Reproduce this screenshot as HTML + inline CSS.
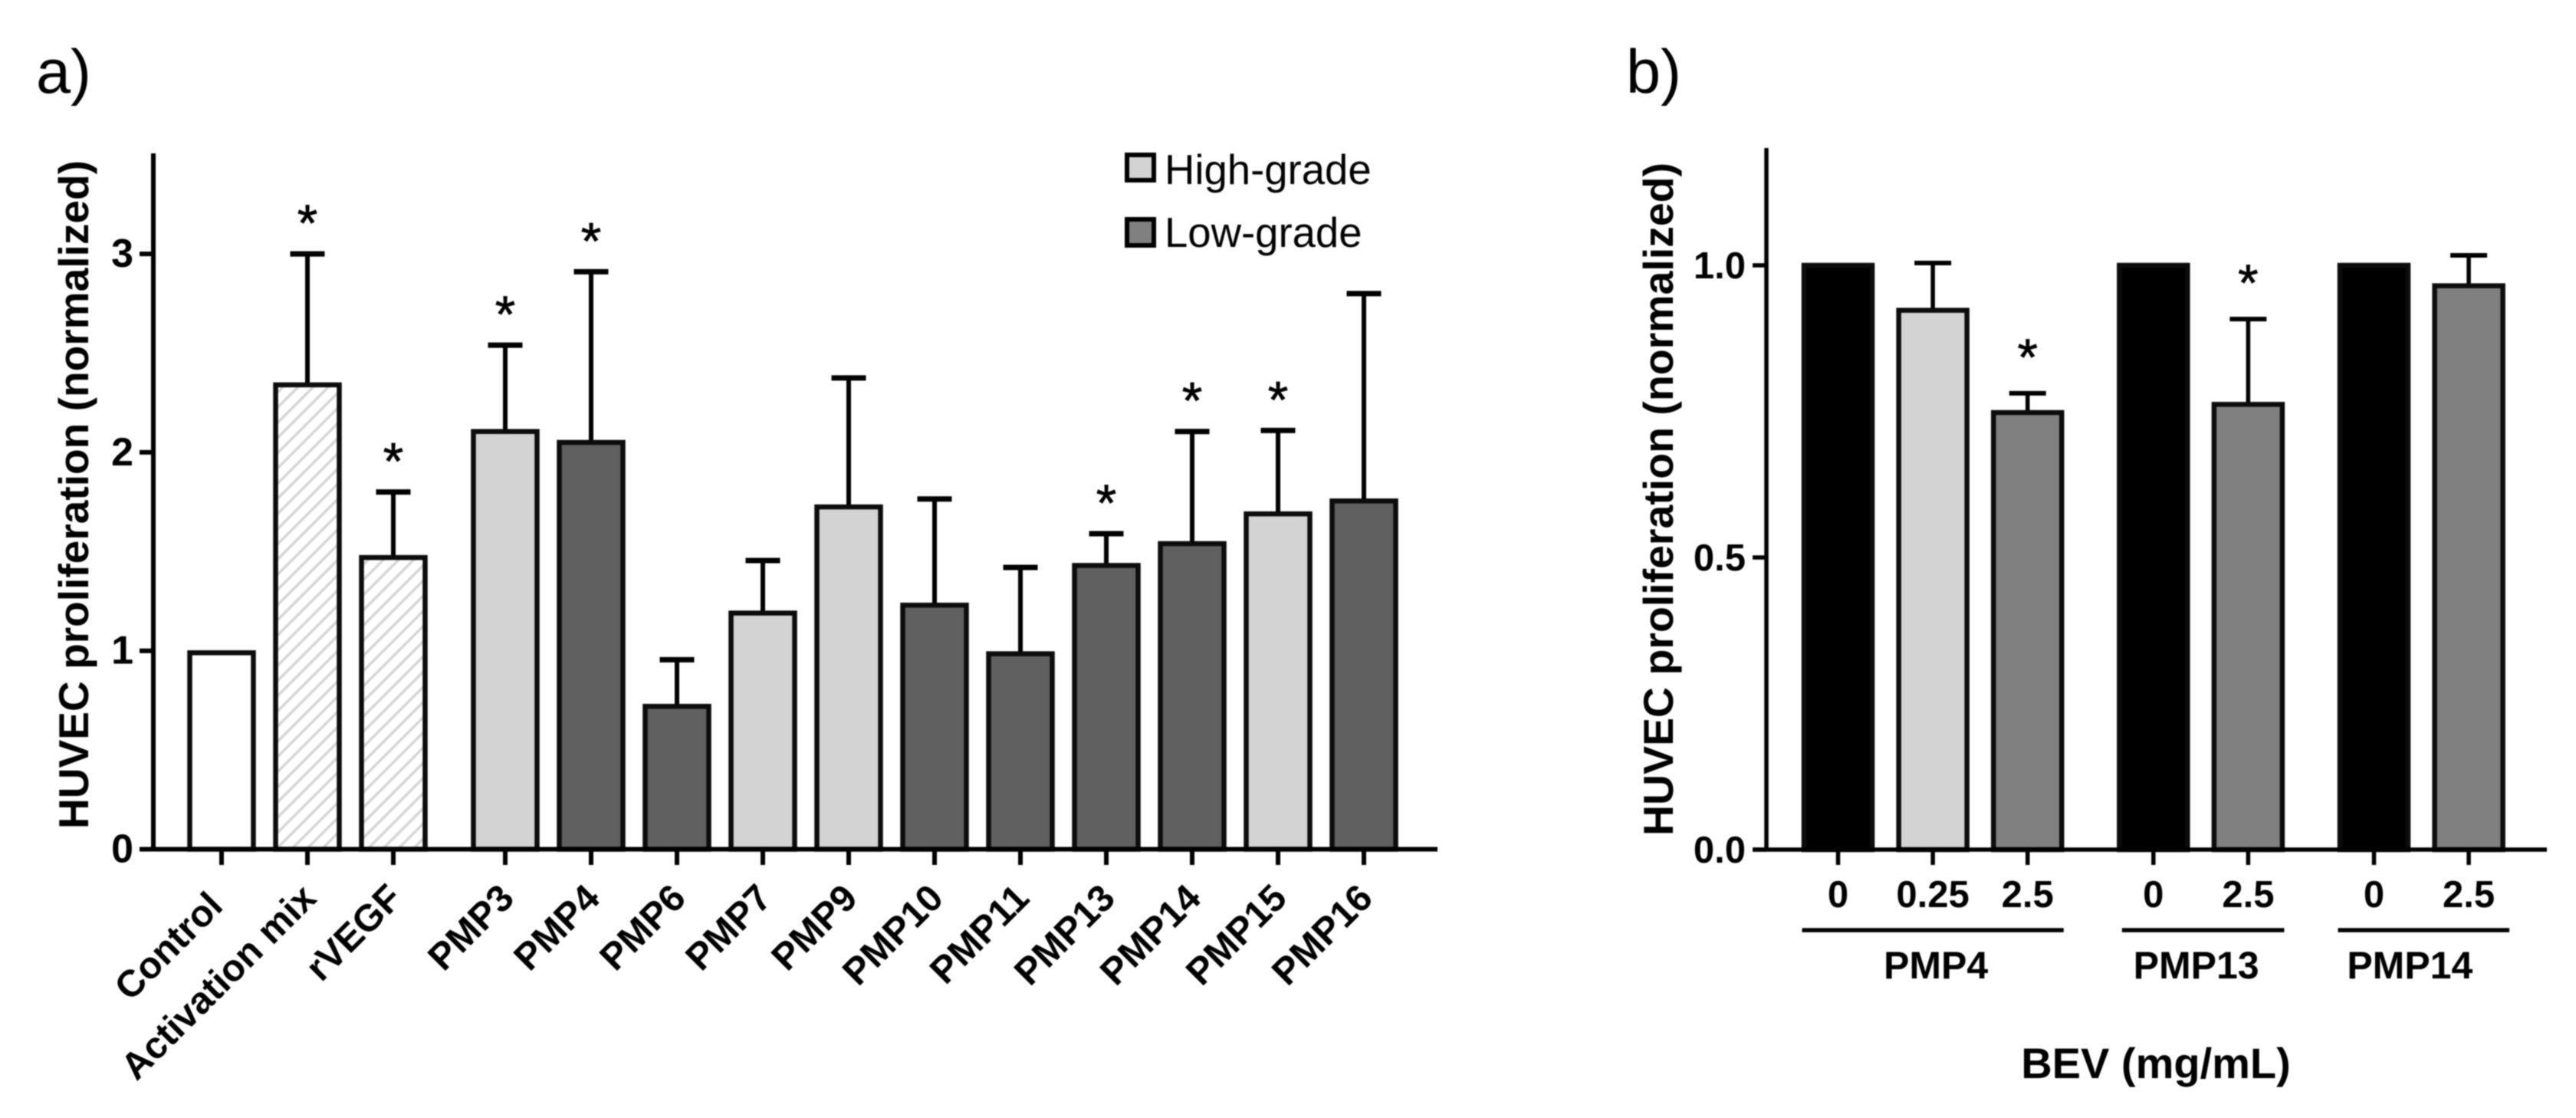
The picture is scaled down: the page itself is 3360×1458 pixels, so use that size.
<!DOCTYPE html>
<html lang="en">
<head>
<meta charset="utf-8">
<title>HUVEC proliferation bar charts</title>
<style>
html,body{margin:0;padding:0;background:#fff;}
body{width:3360px;height:1458px;overflow:hidden;}
svg{display:block;filter:blur(0.9px);}
text{font-family:"Liberation Sans",Arial,sans-serif;fill:#000;}
.b{font-weight:bold;}
.star{stroke:#000;stroke-width:0.8px;}
</style>
</head>
<body>
<svg id="figure" xmlns="http://www.w3.org/2000/svg" width="3360" height="1458" viewBox="0 0 3360 1458">
  <defs>
    <pattern id="hatch" patternUnits="userSpaceOnUse" width="14" height="14" patternTransform="rotate(-45)">
      <rect width="14" height="14" fill="#ffffff"/>
      <rect width="14" height="3.6" fill="#d6d6d6"/>
    </pattern>
  </defs>
  <rect width="3360" height="1458" fill="#ffffff"/>
  <text x="47" y="121" font-size="81">a)</text>
  <text x="2121" y="121" font-size="81">b)</text>
  <g id="chartA"></g>
  <g id="chartB"></g>
  <text class="b" transform="translate(115,1081) rotate(-90)" font-size="55" textLength="872" lengthAdjust="spacingAndGlyphs">HUVEC proliferation (normalized)</text>
  <text class="b" transform="translate(2182,1090) rotate(-90)" font-size="55" textLength="878" lengthAdjust="spacingAndGlyphs">HUVEC proliferation (normalized)</text>
  <g>
    <rect x="1470" y="202" width="35" height="33" fill="#d3d3d3" stroke="#000" stroke-width="6"/>
    <text x="1519" y="240" font-size="54.5">High-grade</text>
    <rect x="1470" y="286" width="35" height="34" fill="#808080" stroke="#000" stroke-width="6"/>
    <text x="1519" y="322" font-size="54.5">Low-grade</text>
  </g>
  <text class="b" x="2812" y="1406" font-size="56" text-anchor="middle">BEV (mg/mL)</text>
</svg>
<script>
// Panel a data
const categoriesA = ["Control","Activation mix","rVEGF","PMP3","PMP4","PMP6","PMP7","PMP9","PMP10","PMP11","PMP13","PMP14","PMP15","PMP16"];
const valuesA = [0.99,2.34,1.47,2.105,2.05,0.72,1.19,1.725,1.23,0.985,1.43,1.54,1.69,1.755];
const errorTopsA = [null,3.0,1.80,2.54,2.91,0.955,1.455,2.375,1.765,1.42,1.59,2.105,2.11,2.80];
const kindsA = ["control","hatch","hatch","high","low","low","high","high","low","low","low","low","high","low"];
const groupsA = [0,0,0,1,1,1,1,1,1,1,1,1,1,1];
const significantA = [false,true,true,true,true,false,false,false,false,false,true,true,true,false];
const yTicksA = [0,1,2,3];
const yTickLabelsA = ["0","1","2","3"];

// Panel b data
const categoriesB = ["0","0.25","2.5","0","2.5","0","2.5"];
const valuesB = [1.0,0.923,0.748,1.0,0.762,1.0,0.965];
const errorTopsB = [null,1.004,0.781,null,0.908,null,1.017];
const kindsB = ["black","light","mid","black","mid","black","mid"];
const groupsB = [0,0,0,1,1,2,2];
const significantB = [false,false,true,false,true,false,false];
const yTicksB = [0,0.5,1];
const yTickLabelsB = ["0.0","0.5","1.0"];
const groupNamesB = ["PMP4","PMP13","PMP14"];

const NS = "http://www.w3.org/2000/svg";
const fills = {control:"#ffffff",hatch:"url(#hatch)",high:"#d3d3d3",low:"#606060",black:"#000000",light:"#d3d3d3",mid:"#808080"};
function make(tag, attrs, parent, txt){
  const el = document.createElementNS(NS, tag);
  for (const k in attrs) el.setAttribute(k, attrs[k]);
  if (txt !== undefined) el.textContent = txt;
  parent.appendChild(el);
  return el;
}
function slug(s){ return String(s).toLowerCase().replace(/[^a-z0-9]+/g,'-'); }

// Panel a axis functions
const y0A = 1107.5, unitA = 258.8;
function yA(v){ return y0A - v * unitA; }
function xA(i){ return 289 + 112 * i + 34 * groupsA[i]; }
// Panel b axis functions
const y0B = 1108, unitB = 762;
function yB(v){ return y0B - v * unitB; }
function xB(i){ return 2397.5 + 123.6 * i + 40.5 * groupsB[i]; }

const stroke = "#000";
const gA = document.getElementById("chartA");
const gB = document.getElementById("chartB");

// Panel a marks
categoriesA.forEach(function(name, i){
  const x = xA(i);
  const n = slug(name);
  if (errorTopsA[i] !== null) {
    const stem = make("line",{x1:x,x2:x,y1:yA(valuesA[i]),y2:yA(errorTopsA[i]),stroke:stroke,"stroke-width":6},gA);
    
    
    const cap = make("line",{x1:x-22.5,x2:x+22.5,y1:yA(errorTopsA[i]),y2:yA(errorTopsA[i]),stroke:stroke,"stroke-width":7},gA);
    
    
  }
  const bar = make("rect",{x:x-41.5,y:yA(valuesA[i]),width:83,height:y0A-yA(valuesA[i]),fill:fills[kindsA[i]],stroke:"#0c0c0c","stroke-width":6.5},gA);
  
  
  const tick = make("line",{x1:x,x2:x,y1:y0A,y2:1128,stroke:stroke,"stroke-width":6},gA);
  
  
  const along = name === "Control" ? -10 : 0;
  const lab = make("text",{"class":"b","font-size":49,"text-anchor":"end",transform:"translate("+(x+14+along)+","+(1174-along)+") rotate(-45)"},gA,name);
  
  
  if (significantA[i]) {
    const star = make("text",{"class":"star",x:x,y:yA(errorTopsA[i])-17,"font-size":68,"text-anchor":"middle"},gA,"*");
    
    
  }
});
const yAxisA = make("line",{x1:200,x2:200,y1:200,y2:1110,stroke:stroke,"stroke-width":6},gA);


const xAxisA = make("line",{x1:182,x2:1875,y1:y0A,y2:y0A,stroke:stroke,"stroke-width":6},gA);


yTicksA.forEach(function(v, i){
  const t = make("line",{x1:182,x2:200,y1:yA(v),y2:yA(v),stroke:stroke,"stroke-width":6},gA);
  
  
  const l = make("text",{"class":"b",x:174,y:yA(v)+17,"font-size":52,"text-anchor":"end"},gA,yTickLabelsA[i]);
  
  
});

// Panel b marks
categoriesB.forEach(function(name, i){
  const x = xB(i);
  const n = slug(groupNamesB[groupsB[i]] + '-' + name);
  if (errorTopsB[i] !== null) {
    const stem = make("line",{x1:x,x2:x,y1:yB(valuesB[i]),y2:yB(errorTopsB[i]),stroke:stroke,"stroke-width":5.5},gB);
    
    
    const cap = make("line",{x1:x-24,x2:x+24,y1:yB(errorTopsB[i]),y2:yB(errorTopsB[i]),stroke:stroke,"stroke-width":6},gB);
    
    
  }
  const bar = make("rect",{x:x-44.5,y:yB(valuesB[i]),width:89,height:y0B-yB(valuesB[i]),fill:fills[kindsB[i]],stroke:"#0c0c0c","stroke-width":6.5},gB);
  
  
  const tick = make("line",{x1:x,x2:x,y1:y0B,y2:1128,stroke:stroke,"stroke-width":5.5},gB);
  
  
  const lab = make("text",{"class":"b",x:x,y:1183,"font-size":49,"text-anchor":"middle"},gB,name);
  
  
  if (significantB[i]) {
    const star = make("text",{"class":"star",x:x,y:yB(errorTopsB[i])-24,"font-size":68,"text-anchor":"middle"},gB,"*");
    
    
  }
});
const yAxisB = make("line",{x1:2304,x2:2304,y1:193,y2:1110,stroke:stroke,"stroke-width":5.5},gB);


const xAxisB = make("line",{x1:2286,x2:3322,y1:y0B,y2:y0B,stroke:stroke,"stroke-width":5.5},gB);


yTicksB.forEach(function(v, i){
  const t = make("line",{x1:2286,x2:2304,y1:yB(v),y2:yB(v),stroke:stroke,"stroke-width":5.5},gB);
  
  
  const l = make("text",{"class":"b",x:2277,y:yB(v)+17,"font-size":49,"text-anchor":"end"},gB,yTickLabelsB[i]);
  
  
});
// Group brackets under panel b
groupNamesB.forEach(function(name, g){
  const members = categoriesB.map(function(c, i){ return i; }).filter(function(i){ return groupsB[i] === g; });
  const first = xB(members[0]), last = xB(members[members.length - 1]);
  const startPad = g === 1 ? 41 : 47;
  const endPad = g === 2 ? 53 : 47;
  const line = make("line",{x1:first-startPad,x2:last+endPad,y1:1213,y2:1213,stroke:stroke,"stroke-width":5.5},gB);
  
  
  const mid = g === 2 ? (first + last) / 2 - 15 : (g === 1 ? (first + last) / 2 - 6 : (first + last) / 2 + 4);
  const t = make("text",{"class":"b",x:mid,y:1276,"font-size":50,"text-anchor":"middle"},gB,name);
  
  
});
</script>
</body>
</html>
